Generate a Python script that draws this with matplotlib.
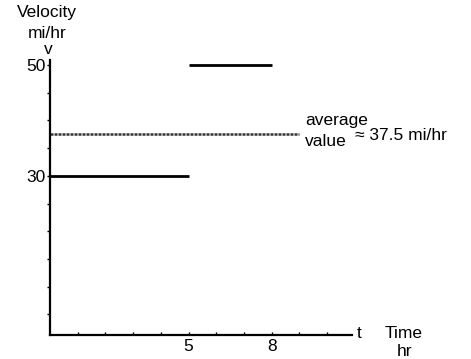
import matplotlib
matplotlib.use('Agg')
import matplotlib.pyplot as plt
import numpy as np

# piecewise velocity (mi/hr) over time (hr)
seg_t0 = [0, 5]
seg_t1 = [5, 8]
seg_v = [30, 50]
avg_v = 37.5
avg_t_end = 9
x_ticks = [5, 8]
y_ticks = [30, 50]

W, H = 471, 359
plt.rcParams['font.family'] = ['Liberation Sans', 'DejaVu Sans']

fig = plt.figure(figsize=(W / 100, H / 100), dpi=100)
fig.patch.set_facecolor('white')


def px(x, y):
    return x / W, 1 - y / H


# axes box in pixel terms: x 50..352, y 60..335
ax = fig.add_axes([50 / W, (H - 335) / H, (352 - 50) / W, (335 - 60) / H])
ax.set_xlim(0, 10.9)
ax.set_ylim(1.3, 50.9)

for t0, t1, v in zip(seg_t0, seg_t1, seg_v):
    ax.plot([t0, t1], [v, v], color='black', linewidth=2.0, solid_capstyle='butt')
ax.plot([0, avg_t_end], [avg_v, avg_v], color='#333333', linewidth=1.8,
        linestyle=(0, (1.2, 0.4)))

for side in ['top', 'right']:
    ax.spines[side].set_visible(False)
for side in ['left', 'bottom']:
    ax.spines[side].set_linewidth(1.6)

fs = 12.5
ax.set_xticks(x_ticks)
ax.set_xticklabels([str(t) for t in x_ticks], fontsize=fs)
ax.set_yticks(y_ticks)
ax.set_yticklabels([str(v) for v in y_ticks], fontsize=fs)
ax.set_xticks(np.arange(1, 11), minor=True)
ax.set_yticks(np.arange(5, 50, 5), minor=True)
ax.tick_params(axis='x', which='both', direction='in', length=2, width=1, pad=3)
ax.tick_params(axis='y', which='both', direction='out', length=2, width=1, pad=1)

fig.text(*px(47, 13), 'Velocity', ha='center', va='center', fontsize=fs)
fig.text(*px(47, 33), 'mi/hr', ha='center', va='center', fontsize=fs)
fig.text(*px(48, 50), 'v', ha='center', va='center', fontsize=fs)
fig.text(*px(359, 333), 't', ha='center', va='center', fontsize=fs)
fig.text(*px(404, 334), 'Time', ha='center', va='center', fontsize=fs)
fig.text(*px(404, 351), 'hr', ha='center', va='center', fontsize=fs)
fig.text(*px(305, 121), 'average', ha='left', va='center', fontsize=fs)
fig.text(*px(305, 141), 'value', ha='left', va='center', fontsize=fs)
fig.text(*px(355, 135), '\u2248 37.5 mi/hr', ha='left', va='center', fontsize=fs)

fig.savefig('out.png', dpi=100, facecolor='white')
